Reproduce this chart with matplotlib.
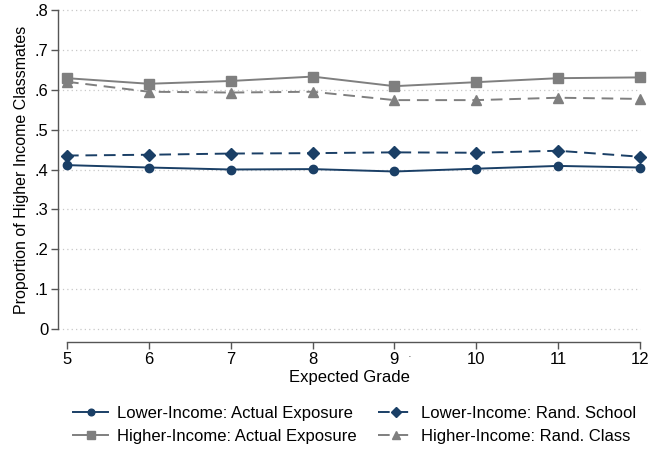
import matplotlib
matplotlib.use("Agg")
import matplotlib.pyplot as plt

plt.rcParams['font.family'] = ['Liberation Sans', 'DejaVu Sans']

grades = [5, 6, 7, 8, 9, 10, 11, 12]
lower_actual = [0.411, 0.405, 0.400, 0.401, 0.395, 0.402, 0.409, 0.405]
lower_rand_school = [0.435, 0.437, 0.440, 0.441, 0.443, 0.442, 0.447, 0.432]
higher_actual = [0.629, 0.615, 0.622, 0.633, 0.609, 0.619, 0.629, 0.631]
higher_rand_class = [0.620, 0.595, 0.593, 0.595, 0.574, 0.574, 0.580, 0.577]
yticks = [0, 0.1, 0.2, 0.3, 0.4, 0.5, 0.6, 0.7, 0.8]
ytick_labels = ["0", ".1", ".2", ".3", ".4", ".5", ".6", ".7", ".8"]

navy = "#1a3f66"
gray = "#7f7f7f"

W, H = 649, 451
fig = plt.figure(figsize=(W / 100, H / 100), dpi=100)
left, right, top, bottom = 58, 640, 10, 329
ax = fig.add_axes([left / W, (H - bottom) / H, (right - left) / W, (bottom - top) / H])

h1, = ax.plot(grades, lower_actual, color=navy, lw=1.4, marker='o', ms=6, clip_on=False,
              label="Lower-Income: Actual Exposure", zorder=3)
h2, = ax.plot(grades, higher_actual, color=gray, lw=1.4, marker='s', ms=6.5, clip_on=False,
              label="Higher-Income: Actual Exposure", zorder=3)
h3, = ax.plot(grades, lower_rand_school, color=navy, lw=1.4, ls=(0, (6, 3.5)), marker='D', ms=6,
              clip_on=False, label="Lower-Income: Rand. School", zorder=3)
h4, = ax.plot(grades, higher_rand_class, color=gray, lw=1.4, ls=(0, (6, 3.5)), marker='^', ms=7,
              clip_on=False, label="Higher-Income: Rand. Class", zorder=3)

ax.set_xlim(5 - 9 / 81.9, 12)
ax.set_ylim(0, 0.8)
ax.set_yticks(yticks)
ax.set_yticklabels(ytick_labels)
ax.set_xticks(grades)
ax.set_xticklabels([str(g) for g in grades])

for y in yticks:
    ax.axhline(y, color="#c8c8c8", lw=0.9, ls=(0, (1, 2.5)), zorder=1, clip_on=False)

for s in ['top', 'right']:
    ax.spines[s].set_visible(False)
ax.spines['left'].set_color("#555555")
ax.spines['left'].set_linewidth(1.0)
ax.spines['bottom'].set_color("#555555")
ax.spines['bottom'].set_linewidth(1.0)
ax.spines['bottom'].set_position(('outward', 9.5))
ax.spines['bottom'].set_bounds(5, 12)

ax.tick_params(axis='both', colors="#555555", labelcolor="black", labelsize=12, length=5, width=1.0)
ax.tick_params(axis='x', pad=2)
ax.tick_params(axis='y', pad=2)
ax.set_ylabel("Proportion of Higher Income Classmates", fontsize=11.5, labelpad=4)
ax.set_xlabel("Expected Grade", fontsize=12, labelpad=2)

ax.text(9.19, -0.07, "·", fontsize=8, ha='center', va='center', color="#333333")

fig.legend(handles=[h1, h2, h3, h4], loc='center', bbox_to_anchor=(355 / W, 1 - 425 / H),
           ncol=2, frameon=False, fontsize=12, handlelength=2.1, columnspacing=1.3,
           labelspacing=0.5, handletextpad=0.5, markerscale=0.8)

fig.savefig("out.png", dpi=100)
